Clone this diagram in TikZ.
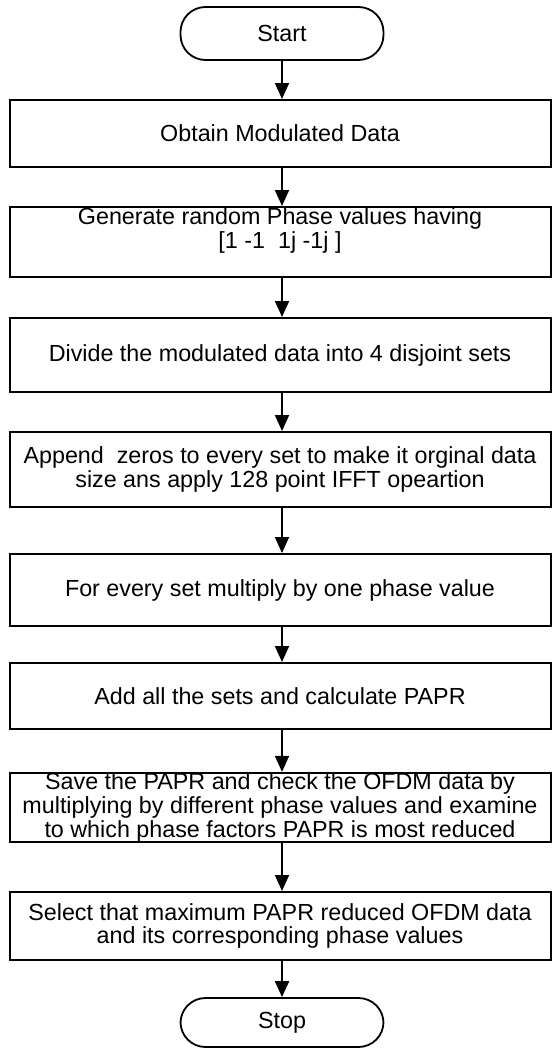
\documentclass[tikz,border=0pt]{standalone}
\usepackage{fontspec}
\setmainfont{Liberation Sans}
\usetikzlibrary{arrows.meta}
\begin{document}
\begin{tikzpicture}[x=1pt,y=-1pt,
  every node/.style={font=\fontsize{23.3}{23.8}\selectfont},
  box/.style={draw, line width=2pt, rectangle, minimum width=541pt, inner sep=0pt, align=center},
  term/.style={draw, line width=1.8pt, rectangle, rounded corners=25pt, minimum width=203pt, inner sep=0pt},
  arr/.style={line width=2pt, -{Triangle[length=16pt,width=14pt]}}
]
\useasboundingbox (0,0) rectangle (552,1049);
\node[term, minimum height=53pt] (start) at (282,33.5) {Start};
\node[box, minimum height=67pt] (b1) at (280,133.5) {Obtain Modulated Data};
\node[box, minimum height=70pt,
  label={[font=\fontsize{23.3}{22}\selectfont, align=center, anchor=north, inner sep=0pt, yshift=-1pt]north:{\strut Generate random Phase values having\\\relax {[}1 -1 \ 1j -1j {]}}}] (b2) at (280,242) {};
\node[box, minimum height=74pt] (b3) at (280,355) {Divide the modulated data into 4 disjoint sets};
\node[box, minimum height=75pt] (b4) at (280,469.5) {Append \ zeros to every set to make it orginal data\\ size ans apply 128 point IFFT opeartion};
\node[box, minimum height=72pt] (b5) at (280,590) {For every set multiply by one phase value};
\node[box, minimum height=66pt] (b6) at (280,696) {Add all the sets and calculate PAPR};
\node[box, minimum height=69pt] (b7) at (280,807.5) {Save the PAPR and check the OFDM data by\\ multiplying by different phase values and examine\\ to which phase factors PAPR is most reduced};
\node[box, minimum height=68pt] (b8) at (280,926) {Select that maximum PAPR reduced OFDM data\\ and its corresponding phase values};
\node[term, minimum height=49pt] (stop) at (282,1022.5) {Stop};
\draw[arr] (start.south) -- ([xshift=2pt]b1.north);
\draw[arr] ([xshift=2pt]b1.south) -- ([xshift=2pt]b2.north);
\draw[arr] ([xshift=2pt]b2.south) -- ([xshift=2pt]b3.north);
\draw[arr] ([xshift=2pt]b3.south) -- ([xshift=2pt]b4.north);
\draw[arr] ([xshift=2pt]b4.south) -- ([xshift=2pt]b5.north);
\draw[arr] ([xshift=2pt]b5.south) -- ([xshift=2pt]b6.north);
\draw[arr] ([xshift=2pt]b6.south) -- ([xshift=2pt]b7.north);
\draw[arr] ([xshift=2pt]b7.south) -- ([xshift=2pt]b8.north);
\draw[arr] ([xshift=2pt]b8.south) -- (stop.north);
\end{tikzpicture}
\end{document}
